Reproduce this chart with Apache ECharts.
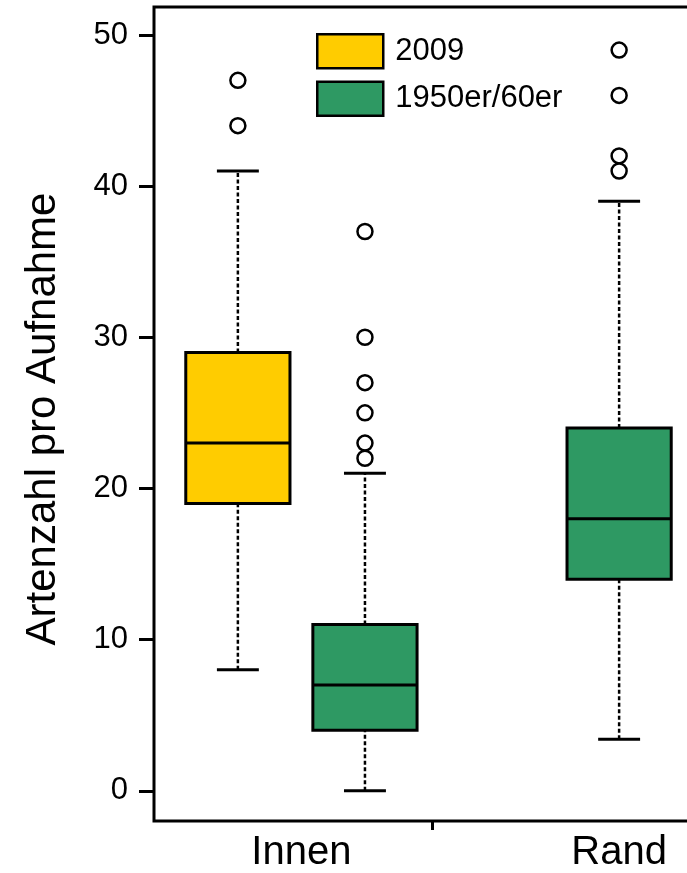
<!DOCTYPE html>
<html>
<head>
<meta charset="utf-8">
<script src="https://cdn.jsdelivr.net/npm/echarts@6/dist/echarts.min.js"></script>
<style>
html,body{margin:0;padding:0;background:#fff;overflow:hidden;}
#chart{width:760px;height:873px;}
</style>
</head>
<body>
<div id="chart"></div>
<script>
// ---- data ----
const groupLabels = ['Innen', 'Rand'];
const groupLabelPos = [1.5, 4];
const groupDividerPos = [2.53];
const seriesNames = ['2009', '1950er/60er'];
const seriesColors = ['#FFCC00', '#2E9963'];
const boxX = [1, 2, 4];
const boxSeries = [0, 1, 1];
const whiskerLow = [8, 0, 3.4];
const quartile1 = [19, 4, 14];
const medians = [23, 7, 18];
const quartile3 = [29, 11, 24];
const whiskerHigh = [41, 21, 39];
const outlierX = [1, 1, 2, 2, 2, 2, 2, 2, 4, 4, 4, 4];
const outlierY = [47, 44, 37, 30, 27, 25, 23, 22, 49, 46, 42, 41];
const yTicks = [0, 10, 20, 30, 40, 50];

const FONT = 'Liberation Sans, Arial, sans-serif';

function boxRows(si) {
  const rows = [];
  boxX.forEach((x, i) => {
    if (boxSeries[i] === si) rows.push([x, whiskerLow[i], quartile1[i], medians[i], quartile3[i], whiskerHigh[i]]);
  });
  return rows;
}

function renderBox(params, api) {
  const x = api.value(0);
  const pLo = api.coord([x, api.value(1)]);
  const pQ1 = api.coord([x, api.value(2)]);
  const pMed = api.coord([x, api.value(3)]);
  const pQ3 = api.coord([x, api.value(4)]);
  const pHi = api.coord([x, api.value(5)]);
  const cx = pMed[0];
  const bw = api.size([0.82, 0])[0];
  const cw = api.size([0.33, 0])[0];
  const dash = {stroke: '#000', lineWidth: 2.5, lineDash: [4, 2.5]};
  const solid = {stroke: '#000', lineWidth: 3};
  return {
    type: 'group',
    children: [
      {type: 'line', shape: {x1: cx, y1: pLo[1], x2: cx, y2: pQ1[1]}, style: dash},
      {type: 'line', shape: {x1: cx, y1: pQ3[1], x2: cx, y2: pHi[1]}, style: dash},
      {type: 'line', shape: {x1: cx - cw / 2, y1: pLo[1], x2: cx + cw / 2, y2: pLo[1]}, style: solid},
      {type: 'line', shape: {x1: cx - cw / 2, y1: pHi[1], x2: cx + cw / 2, y2: pHi[1]}, style: solid},
      {type: 'rect', shape: {x: cx - bw / 2, y: pQ3[1], width: bw, height: pQ1[1] - pQ3[1]},
        style: {fill: api.visual('color'), stroke: '#000', lineWidth: 3}},
      {type: 'line', shape: {x1: cx - bw / 2, y1: pMed[1], x2: cx + bw / 2, y2: pMed[1]}, style: solid}
    ]
  };
}

const chart = echarts.init(document.getElementById('chart'), null, {renderer: 'canvas'});
chart.setOption({
  animation: false,
  backgroundColor: '#fff',
  grid: {left: 154, top: 7, width: 549, height: 814, show: true, borderColor: '#000', borderWidth: 3,
    containLabel: false, outerBoundsMode: 'none'},
  legend: {
    orient: 'vertical', left: 316, top: 33, padding: 0, itemWidth: 66, itemHeight: 34, itemGap: 11,
    textStyle: {fontFamily: FONT, fontSize: 31, color: '#000', padding: [0, 0, 0, 7]},
    data: seriesNames.map((n, i) => ({name: n, icon: 'rect',
      itemStyle: {color: seriesColors[i], borderColor: '#000', borderWidth: 2.5}}))
  },
  xAxis: {
    type: 'value', min: 0.34, max: 4.66,
    axisLine: {show: false, onZero: false}, splitLine: {show: false},
    axisTick: {show: true, customValues: groupDividerPos, length: 9, lineStyle: {color: '#000', width: 3}},
    axisLabel: {show: true, customValues: groupLabelPos, margin: 12,
      formatter: v => groupLabels[groupLabelPos.indexOf(v)] || '',
      fontFamily: FONT, fontSize: 40, color: '#000'}
  },
  yAxis: {
    type: 'value', min: -2, max: 51.85,
    axisLine: {show: false, onZero: false}, splitLine: {show: false},
    axisTick: {show: true, customValues: yTicks, length: 15, lineStyle: {color: '#000', width: 3}},
    axisLabel: {show: true, customValues: yTicks, margin: 26, fontFamily: FONT, fontSize: 31, color: '#000'},
    name: 'Artenzahl pro Aufnahme', nameLocation: 'middle', nameGap: 90,
    nameTextStyle: {fontFamily: FONT, fontSize: 42, color: '#000', padding: [0, 10, 0, 0]}
  },
  series: [
    {name: seriesNames[0], type: 'custom', renderItem: renderBox, itemStyle: {color: seriesColors[0]},
      encode: {x: 0, y: [1, 2, 3, 4, 5]}, data: boxRows(0)},
    {name: seriesNames[1], type: 'custom', renderItem: renderBox, itemStyle: {color: seriesColors[1]},
      encode: {x: 0, y: [1, 2, 3, 4, 5]}, data: boxRows(1)},
    {name: 'outliers', type: 'scatter', symbol: 'circle', symbolSize: 15,
      itemStyle: {color: '#fff', borderColor: '#000', borderWidth: 2.5, opacity: 1},
      data: outlierX.map((x, i) => [x, outlierY[i]]), z: 3}
  ]
});
</script>
</body>
</html>
